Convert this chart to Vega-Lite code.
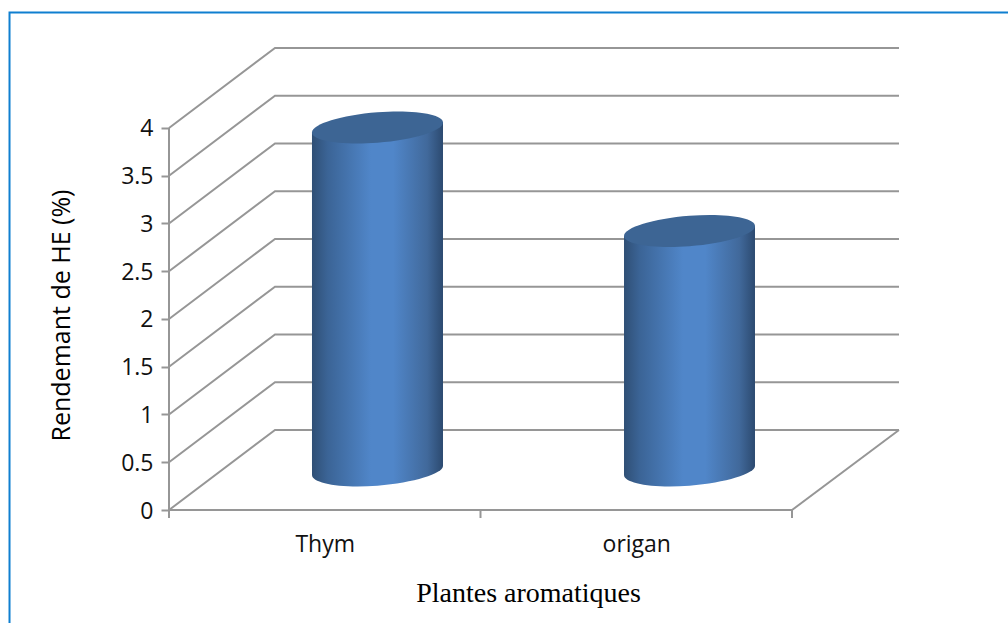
{
  "$schema": "https://vega.github.io/schema/vega-lite/v6.json",
  "width": 730,
  "height": 463,
  "autosize": "none",
  "padding": {"left": 169, "top": 47, "right": 109, "bottom": 113},
  "background": "white",
  "config": {"view": {"stroke": null}},
  "datasets": {
    "frame": [
      {"u": -0.512, "v": -1.183, "o": 1},
      {"u": -0.512, "v": 5.209, "o": 2},
      {"u": 2.72, "v": 5.209, "o": 3}
    ],
    "grid": [
      {"level": 0, "u": 0, "v": 0, "o": 1},
      {"level": 0, "u": 0.3403, "v": 0.8377, "o": 2},
      {"level": 0, "u": 2.3435, "v": 0.8377, "o": 3},
      {"level": 0.5, "u": 0, "v": 0.5, "o": 1},
      {"level": 0.5, "u": 0.3403, "v": 1.3377, "o": 2},
      {"level": 0.5, "u": 2.3435, "v": 1.3377, "o": 3},
      {"level": 1, "u": 0, "v": 1, "o": 1},
      {"level": 1, "u": 0.3403, "v": 1.8377, "o": 2},
      {"level": 1, "u": 2.3435, "v": 1.8377, "o": 3},
      {"level": 1.5, "u": 0, "v": 1.5, "o": 1},
      {"level": 1.5, "u": 0.3403, "v": 2.3377, "o": 2},
      {"level": 1.5, "u": 2.3435, "v": 2.3377, "o": 3},
      {"level": 2, "u": 0, "v": 2, "o": 1},
      {"level": 2, "u": 0.3403, "v": 2.8377, "o": 2},
      {"level": 2, "u": 2.3435, "v": 2.8377, "o": 3},
      {"level": 2.5, "u": 0, "v": 2.5, "o": 1},
      {"level": 2.5, "u": 0.3403, "v": 3.3377, "o": 2},
      {"level": 2.5, "u": 2.3435, "v": 3.3377, "o": 3},
      {"level": 3, "u": 0, "v": 3, "o": 1},
      {"level": 3, "u": 0.3403, "v": 3.8377, "o": 2},
      {"level": 3, "u": 2.3435, "v": 3.8377, "o": 3},
      {"level": 3.5, "u": 0, "v": 3.5, "o": 1},
      {"level": 3.5, "u": 0.3403, "v": 4.3377, "o": 2},
      {"level": 3.5, "u": 2.3435, "v": 4.3377, "o": 3},
      {"level": 4, "u": 0, "v": 4, "o": 1},
      {"level": 4, "u": 0.3403, "v": 4.8377, "o": 2},
      {"level": 4, "u": 2.3435, "v": 4.8377, "o": 3},
      {"level": "axisY", "u": 0, "v": 0, "o": 1},
      {"level": "axisY", "u": 0, "v": 4, "o": 2},
      {"level": "axisX", "u": 0, "v": 0, "o": 1},
      {"level": "axisX", "u": 2, "v": 0, "o": 2},
      {"level": "floor", "u": 2, "v": 0, "o": 1},
      {"level": "floor", "u": 2.3435, "v": 0.8377, "o": 2}
    ],
    "bodies": [
      {"plante": "Thym", "u": 0.459, "top": 3.948, "base": 0.3665},
      {"plante": "Thym", "u": 0.8796, "top": 4.063, "base": 0.4607},
      {"plante": "origan", "u": 1.4607, "top": 2.869, "base": 0.3665},
      {"plante": "origan", "u": 1.8812, "top": 2.974, "base": 0.4607}
    ],
    "bases": [
      {"plante": "Thym", "u": 0.6693, "v": 0.4136},
      {"plante": "origan", "u": 1.6709, "v": 0.4136}
    ],
    "tops": [
      {"plante": "Thym", "u": 0.6693, "v": 4.005},
      {"plante": "origan", "u": 1.6709, "v": 2.921}
    ]
  },
  "layer": [
    {
      "data": {"name": "frame"},
      "mark": {"type": "line", "stroke": "#0f7fd0", "strokeWidth": 2, "clip": false},
      "encoding": {
        "x": {
          "field": "u", "type": "quantitative",
          "scale": {"domain": [0, 2.3435], "nice": false, "zero": false},
          "axis": {
            "values": [0.5, 1.5],
            "domain": false, "grid": false, "ticks": false,
            "labelExpr": "datum.value == 0.5 ? 'Thym' : 'origan'",
            "labelFont": "Open Sans", "labelFontSize": 23, "labelColor": "#111",
            "labelPadding": 23,
            "title": "Plantes aromatiques",
            "titleFont": "Liberation Serif", "titleFontSize": 28, "titleFontWeight": "normal", "titleColor": "#000",
            "titleX": 359, "titleY": 69, "titleAnchor": "middle"
          }
        },
        "y": {
          "field": "v", "type": "quantitative",
          "scale": {"domain": [0, 4.848], "nice": false, "zero": false},
          "axis": {
            "values": [0, 0.5, 1, 1.5, 2, 2.5, 3, 3.5, 4],
            "format": "~g",
            "domain": false, "grid": false,
            "tickColor": "#969696", "tickWidth": 2, "tickSize": 8,
            "labelFont": "Open Sans", "labelFontSize": 23, "labelColor": "#111",
            "labelPadding": 8, "labelOffset": 1,
            "title": "Rendemant de HE (%)",
            "titleFont": "Open Sans", "titleFontSize": 25, "titleFontWeight": "normal", "titleColor": "#000",
            "titleX": -95, "titleY": 268, "titleAnchor": "middle"
          }
        },
        "order": {"field": "o", "type": "quantitative"}
      }
    },
    {
      "data": {"name": "grid"},
      "mark": {"type": "line", "stroke": "#969696", "strokeWidth": 2, "clip": false},
      "encoding": {
        "x": {"field": "u", "type": "quantitative"},
        "y": {"field": "v", "type": "quantitative"},
        "detail": {"field": "level", "type": "nominal"},
        "order": {"field": "o", "type": "quantitative"}
      }
    },
    {
      "data": {"values": [{"u": 0, "v": 0, "v2": -0.084}, {"u": 1, "v": 0, "v2": -0.084}, {"u": 2, "v": 0, "v2": -0.084}]},
      "mark": {"type": "rule", "stroke": "#969696", "strokeWidth": 2, "clip": false},
      "encoding": {
        "x": {"field": "u", "type": "quantitative"},
        "y": {"field": "v", "type": "quantitative"},
        "y2": {"field": "v2"}
      }
    },
    {
      "data": {"name": "bodies"},
      "mark": {
        "type": "area", "orient": "vertical",
        "fill": {"gradient": "linear", "x1": 0, "y1": 0, "x2": 1, "y2": 0, "stops": [
          {"offset": 0, "color": "#2f4f75"},
          {"offset": 0.12, "color": "#3b6496"},
          {"offset": 0.45, "color": "#5086c9"},
          {"offset": 0.62, "color": "#5086c9"},
          {"offset": 0.88, "color": "#41699b"},
          {"offset": 1, "color": "#2c4a70"}
        ]}
      },
      "encoding": {
        "x": {"field": "u", "type": "quantitative"},
        "y": {"field": "top", "type": "quantitative"},
        "y2": {"field": "base"},
        "detail": {"field": "plante", "type": "nominal"}
      }
    },
    {
      "data": {"name": "bases"},
      "mark": {
        "type": "point", "filled": true, "size": 17161, "opacity": 1, "strokeWidth": 0,
        "shape": "M1 -0.0687C1 0.0474 0.5523 0.1869 0 0.232C-0.5523 0.2769 -1 0.1966 -1 0.0687C-1 -0.0474 -0.5523 -0.1869 0 -0.232C0.5523 -0.2769 1 -0.1966 1 -0.0687Z",
        "fill": {"gradient": "linear", "x1": 0, "y1": 0, "x2": 1, "y2": 0, "stops": [
          {"offset": 0, "color": "#2f4f75"},
          {"offset": 0.12, "color": "#3b6496"},
          {"offset": 0.45, "color": "#5086c9"},
          {"offset": 0.62, "color": "#5086c9"},
          {"offset": 0.88, "color": "#41699b"},
          {"offset": 1, "color": "#2c4a70"}
        ]}
      },
      "encoding": {
        "x": {"field": "u", "type": "quantitative"},
        "y": {"field": "v", "type": "quantitative"}
      }
    },
    {
      "data": {"name": "tops"},
      "mark": {
        "type": "point", "filled": true, "size": 17161, "opacity": 1, "strokeWidth": 0,
        "shape": "M1 -0.0763C1 0.0518 0.5523 0.1899 0 0.232C-0.5523 0.2741 -1 0.2044 -1 0.0763C-1 -0.0518 -0.5523 -0.1899 0 -0.232C0.5523 -0.2741 1 -0.2044 1 -0.0763Z",
        "fill": "#3d6594"
      },
      "encoding": {
        "x": {"field": "u", "type": "quantitative"},
        "y": {"field": "v", "type": "quantitative"}
      }
    }
  ]
}
